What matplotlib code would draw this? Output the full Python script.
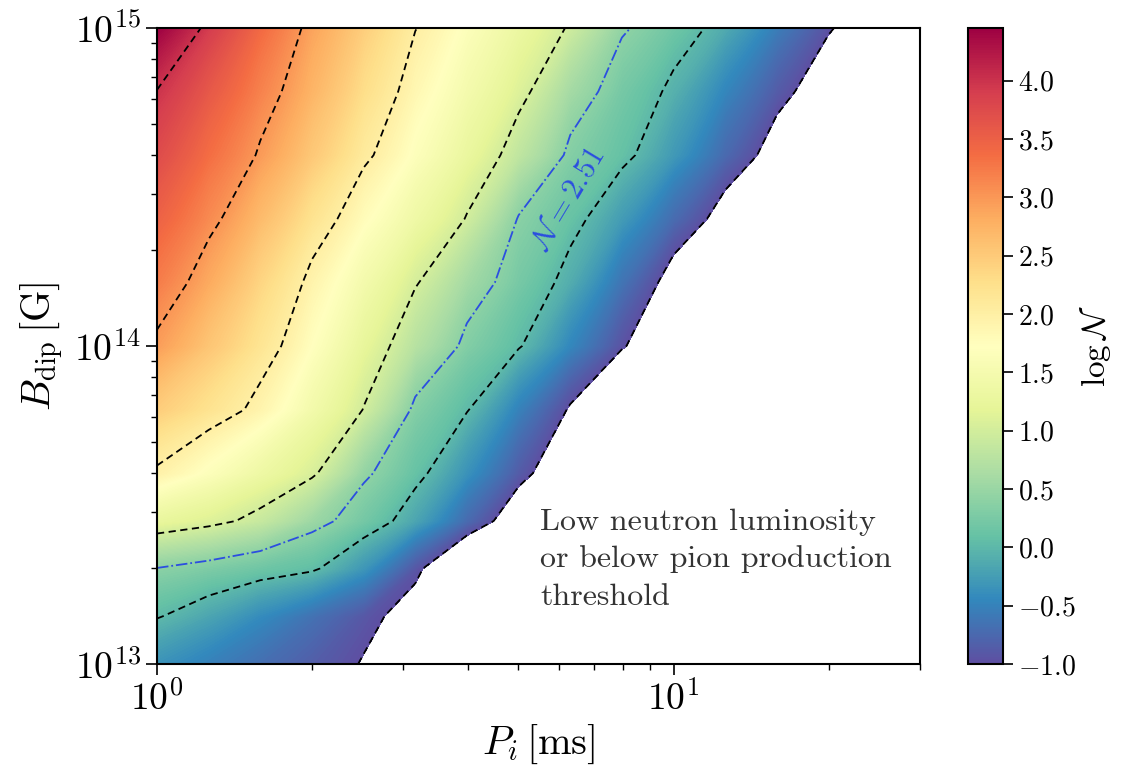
import numpy as np
import matplotlib
matplotlib.use("Agg")
import matplotlib.pyplot as plt
import matplotlib.ticker as ticker
from matplotlib import cm, colors

matplotlib.rcParams['font.family'] = 'serif'
matplotlib.rcParams['font.serif'] = ['cmr10']
matplotlib.rcParams['mathtext.fontset'] = 'cm'
matplotlib.rcParams['axes.formatter.use_mathtext'] = True
matplotlib.rcParams['axes.linewidth'] = 1.5

# grid nodes: log10(P_i / ms) and log10(B_dip / G)
log_p = [0.0, 0.1, 0.2, 0.3, 0.4, 0.5, 0.6, 0.7, 0.8, 0.9, 1.0, 1.1, 1.2, 1.3, 1.4, 1.48]
log_b = [13.0, 13.15, 13.3, 13.45, 13.6, 13.8, 14.0, 14.2, 14.4, 14.6, 14.8, 15.0]

# log N, one row per B node
log_n = [
    [-0.35, -0.52, -0.69, -0.85, -1.02, -1.19, -1.36, -1.53, -1.70, -1.90, -2.10, -2.30, -2.50, -2.70, -2.90, -3.10],
    [0.02, -0.18, -0.42, -0.66, -0.91, -1.15, -1.40, -1.64, -1.90, -2.20, -2.50, -2.80, -3.10, -3.40, -3.70, -4.00],
    [0.39, 0.28, 0.16, 0.05, -0.32, -0.92, -1.52, -2.10, -2.70, -3.30, -3.90, -4.50, -5.10, -5.70, -6.30, -6.80],
    [1.26, 1.11, 0.89, 0.53, 0.21, -0.18, -0.73, -1.28, -1.83, -2.38, -2.90, -3.40, -3.90, -4.40, -4.90, -5.30],
    [1.95, 1.66, 1.36, 1.06, 0.46, 0.10, -0.36, -0.87, -1.38, -1.90, -2.40, -2.90, -3.40, -3.90, -4.40, -4.80],
    [2.46, 2.20, 1.90, 1.45, 0.99, 0.33, 0.02, -0.51, -1.04, -1.57, -2.10, -2.60, -3.10, -3.60, -4.10, -4.50],
    [2.94, 2.55, 2.17, 1.72, 1.23, 0.75, 0.32, 0.03, -0.46, -0.96, -1.46, -1.96, -2.46, -2.96, -3.46, -3.86],
    [3.22, 2.83, 2.37, 1.91, 1.47, 1.03, 0.58, 0.23, -0.11, -0.64, -1.17, -1.70, -2.20, -2.70, -3.20, -3.60],
    [3.48, 3.10, 2.66, 2.20, 1.77, 1.38, 0.98, 0.38, 0.11, -0.27, -0.72, -1.17, -1.62, -2.07, -2.50, -2.80],
    [3.74, 3.35, 2.96, 2.52, 2.07, 1.67, 1.28, 0.83, 0.33, 0.09, -0.29, -0.74, -1.18, -1.63, -2.08, -2.40],
    [3.99, 3.59, 3.17, 2.73, 2.27, 1.85, 1.48, 1.11, 0.59, 0.22, -0.07, -0.47, -0.87, -1.27, -1.67, -2.00],
    [4.45, 3.91, 3.39, 2.89, 2.45, 2.01, 1.66, 1.32, 0.96, 0.44, 0.17, -0.13, -0.55, -0.96, -1.37, -1.70],
]

dashed_levels = [-1, 0, 1, 2, 3, 4]
blue_level = [0.4]          # N = 2.51
cbar_ticks = [-1.0, -0.5, 0.0, 0.5, 1.0, 1.5, 2.0, 2.5, 3.0, 3.5, 4.0]
vmin, vmax = -1.0, 4.45

P, B = np.meshgrid(10 ** np.array(log_p), 10 ** np.array(log_b))
Z = np.array(log_n)

fig = plt.figure(figsize=(11.27, 7.74), dpi=100)
ax = fig.add_axes([0.1393, 0.1421, 0.677, 0.8217])
cax = fig.add_axes([0.859, 0.1421, 0.031, 0.8217])

norm = colors.Normalize(vmin, vmax)
cf = ax.contourf(P, B, Z, levels=np.linspace(vmin, vmax, 256), cmap='Spectral_r', norm=norm)
cf.set_edgecolor('face')
cf.set_linewidth(0.3)

ax.contour(P, B, Z, levels=dashed_levels, colors='k', linestyles=[(0, (4, 2.5))], linewidths=1.3)
ax.contour(P, B, Z, levels=blue_level, colors='#2b4ee0', linestyles='-.', linewidths=1.3)
ax.text(6.25, 2.9e14, r'$\mathcal{N} = 2.51$', rotation=59, color='#2b4ee0', fontsize=22,
        ha='center', va='center', rotation_mode='anchor')

ax.text(0.502, 0.245, 'Low neutron luminosity\nor below pion production\nthreshold',
        transform=ax.transAxes, fontsize=23, ha='left', va='top', color='#333333', linespacing=1.45)

ax.set_xscale('log')
ax.set_yscale('log')
ax.set_xlim(1, 30)
ax.set_ylim(1e13, 1e15)
ax.tick_params(which='major', length=8, width=1.2, labelsize=27)
ax.tick_params(which='minor', length=4.5, width=1.0)
ax.set_xlabel(r'$P_i\,[\mathrm{ms}]$', fontsize=29, labelpad=4)
ax.set_ylabel(r'$B_{\rm dip}\,[\mathrm{G}]$', fontsize=29, labelpad=6)

cb = fig.colorbar(cm.ScalarMappable(norm=norm, cmap='Spectral_r'), cax=cax, ticks=cbar_ticks)
cb.outline.set_linewidth(1.5)
cb.ax.tick_params(labelsize=20, length=7, width=1.2)
cb.set_label(r'$\log\mathcal{N}$', fontsize=24, labelpad=2)

fig.savefig('out.png', dpi=100)
